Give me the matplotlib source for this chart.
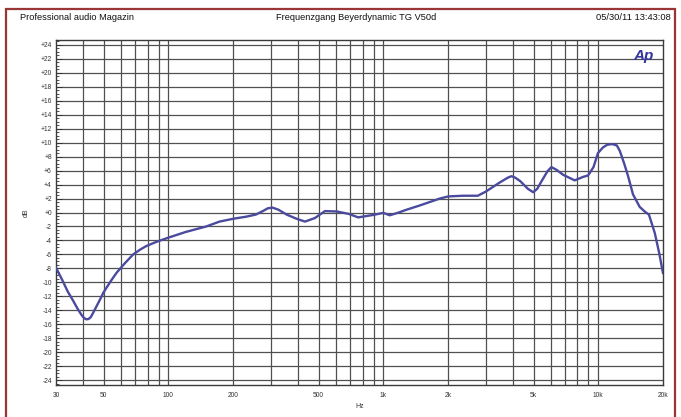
import matplotlib
matplotlib.use("Agg")
import matplotlib.pyplot as plt
from matplotlib.patches import Rectangle
from matplotlib.ticker import FixedLocator, NullFormatter

plt.rcParams['font.family'] = ['Liberation Sans', 'DejaVu Sans']

# Frequency response
freq_hz = [30, 32, 34, 36, 38, 39.5, 40.5, 41.5, 42.5, 43.5, 44.6, 46, 48, 50, 54, 57.5,
           63, 68.6, 74, 79, 88, 100, 120, 150, 173, 200, 230, 255, 275, 290, 305, 325,
           355, 395, 432, 480, 535, 607, 690, 764, 897, 1000, 1071, 1180, 1282, 1475,
           1832, 2003, 2346, 2751, 3000, 3480, 3800, 3945, 4100, 4330, 4700, 4980, 5200,
           5450, 5800, 6050, 6400, 6860, 7770, 8500, 8960, 9500, 9960, 10500, 11000,
           11600, 12200, 12600, 13200, 13760, 14500, 15580, 16500, 17200, 18300, 19200,
           20000]
level_db = [-7.9, -9.6, -11.3, -12.6, -13.9, -14.7, -15.1, -15.3, -15.25, -15.0, -14.4,
            -13.6, -12.5, -11.4, -9.8, -8.6, -7.2, -6.0, -5.3, -4.8, -4.2, -3.6, -2.8,
            -2.0, -1.3, -0.9, -0.6, -0.3, +0.2, +0.6, +0.7, +0.4, -0.3, -0.9, -1.3, -0.8,
            +0.2, +0.15, -0.2, -0.7, -0.35, -0.05, -0.4, +0.0, +0.4, +1.0, +2.0, +2.3,
            +2.4, +2.4, +3.0, +4.3, +5.0, +5.2, +5.0, +4.5, +3.4, +2.9, +3.4, +4.5, +5.9,
            +6.5, +6.1, +5.4, +4.6, +5.1, +5.3, +6.5, +8.5, +9.3, +9.7, +9.8, +9.6, +8.8,
            +7.0, +5.2, +2.6, +0.8, +0.1, -0.3, -2.9, -5.8, -8.7]

x_tick_values = [30, 50, 100, 200, 500, 1000, 2000, 5000, 10000, 20000]
x_tick_labels = ["30", "50", "100", "200", "500", "1k", "2k", "5k", "10k", "20k"]
x_grid_values = [40, 50, 60, 70, 80, 90, 100, 200, 300, 400, 500, 600, 700, 800, 900,
                 1000, 2000, 3000, 4000, 5000, 6000, 7000, 8000, 9000, 10000]
y_tick_values = list(range(-24, 25, 2))
y_tick_labels = [("+%d" % v if v > 0 else ("+0" if v == 0 else "%d" % v)) for v in y_tick_values]

W, H = 681, 417
fig = plt.figure(figsize=(W / 100, H / 100), dpi=100)
fig.patch.set_facecolor('white')

# dark red frame
fig.add_artist(Rectangle((6 / W, -0.05), (675 - 6) / W, 1.05 - 9 / H,
                         transform=fig.transFigure, fill=False,
                         edgecolor='#9a3535', lw=1.6))

left, right, top, bottom = 56, 663, 40, 385
ax = fig.add_axes([left / W, 1 - bottom / H, (right - left) / W, (bottom - top) / H])
ax.set_xscale('log')
ax.set_xlim(30, 20000)
ax.set_ylim(-24.7, 24.7)

grid_c = '#505050'
for xv in x_grid_values:
    ax.axvline(xv, color=grid_c, lw=0.9, zorder=1)
for yv in y_tick_values:
    ax.axhline(yv, color=grid_c, lw=0.9, zorder=1)

ax.plot(freq_hz, level_db, color='#4a4a9e', lw=1.7, zorder=3,
        solid_capstyle='round', solid_joinstyle='round')

ax.set_xticks(x_tick_values)
ax.set_xticklabels(x_tick_labels)
ax.xaxis.set_minor_locator(FixedLocator([]))
ax.xaxis.set_minor_formatter(NullFormatter())
ax.tick_params(axis='x', which='both', length=0, labelsize=4.8, pad=5, colors='#333333')

ax.set_yticks(y_tick_values)
ax.set_yticklabels(y_tick_labels)
ax.yaxis.set_minor_locator(FixedLocator([v / 2 for v in range(-49, 50)]))
ax.tick_params(axis='y', which='major', direction='in', length=4, width=0.7,
               labelsize=4.8, pad=3, colors='#333333')
ax.tick_params(axis='y', which='minor', direction='in', length=2.5, width=0.6, color='#333333')

for s in ax.spines.values():
    s.set_color('#3a3a3a')
    s.set_linewidth(1.0)

ax.set_xlabel('Hz', fontsize=5, labelpad=3, color='#333333')
ax.set_ylabel('dB', fontsize=5, labelpad=8, color='#333333')

# Ap logo
ax.text(0.985, 0.975, 'Ap', transform=ax.transAxes, ha='right', va='top',
        fontsize=11, fontweight='bold', fontstyle='italic', color='#34349a', zorder=5)

# Header texts
fig.text(20 / W, 1 - 17 / H, 'Professional audio Magazin', fontsize=6.7,
         ha='left', va='center', color='#111111')
fig.text(356 / W, 1 - 17 / H, 'Frequenzgang Beyerdynamic TG V50d', fontsize=6.7,
         ha='center', va='center', color='#111111')
fig.text(671 / W, 1 - 17 / H, '05/30/11 13:43:08', fontsize=6.7,
         ha='right', va='center', color='#111111')

fig.savefig('out.png', dpi=100)
